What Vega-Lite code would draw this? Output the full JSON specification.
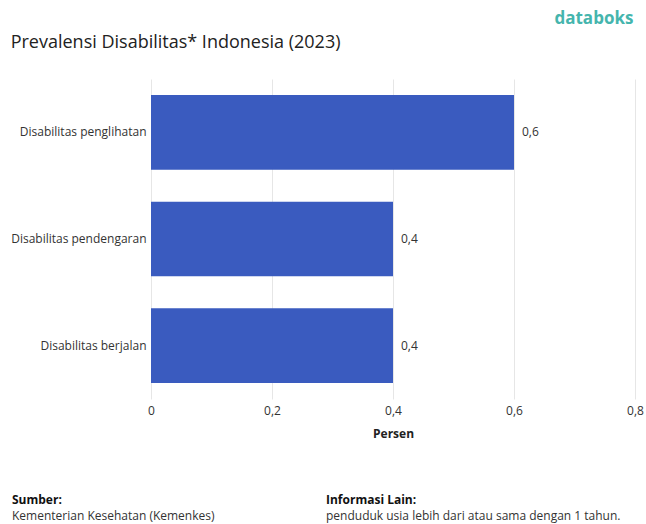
{
  "$schema": "https://vega.github.io/schema/vega-lite/v6.json",
  "padding": {"left": 10, "right": 0, "top": 10, "bottom": 0},
  "background": "white",
  "config": {
    "font": "Open Sans",
    "view": {"stroke": null},
    "locale": {"number": {"decimal": ",", "thousands": ".", "grouping": [3], "currency": ["Rp", ""]}}
  },
  "title": {"text": "databoks", "anchor": "end", "frame": "bounds", "color": "#45b5ad", "fontSize": 17, "fontWeight": "bold", "font": "Open Sans", "offset": 6, "dx": -10},
  "spacing": 53,
  "vconcat": [
    {
      "width": 484,
      "height": 320,
      "title": {"text": "Prevalensi Disabilitas* Indonesia (2023)", "anchor": "start", "frame": "bounds", "fontSize": 18, "fontWeight": "normal", "color": "#222222", "offset": 27},
      "data": {"values": [
        {"kategori": "Disabilitas penglihatan", "nilai": 0.6},
        {"kategori": "Disabilitas pendengaran", "nilai": 0.4},
        {"kategori": "Disabilitas berjalan", "nilai": 0.4}
      ]},
      "encoding": {
        "y": {"field": "kategori", "type": "nominal", "sort": null, "scale": {"paddingInner": 0.3, "paddingOuter": 0.15},
          "axis": {"title": null, "ticks": false, "domain": false, "labelFontSize": 12, "labelColor": "#333333", "labelPadding": 5, "labelLimit": 200}},
        "x": {"field": "nilai", "type": "quantitative", "scale": {"domain": [0, 0.8]},
          "axis": {"values": [0, 0.2, 0.4, 0.6, 0.8], "format": ".1~f", "labelFlush": false, "domain": false, "ticks": false, "gridColor": "#e6e6e6", "labelFontSize": 12, "labelColor": "#333333", "labelPadding": 6, "title": "Persen", "titleFontSize": 12, "titleFontWeight": "bold", "titleColor": "#222222", "titlePadding": 12}}
      },
      "layer": [
        {"mark": {"type": "bar", "color": "#3a5bbf"}},
        {"mark": {"type": "text", "align": "left", "dx": 8, "fontSize": 12, "color": "#333333"},
          "encoding": {"text": {"field": "nilai", "type": "quantitative", "format": ".1~f"}}}
      ]
    },
    {
      "width": 300,
      "height": 32,
      "data": {"values": [
        {"kolom": "a", "baris": "h", "teks": "Sumber:"},
        {"kolom": "a", "baris": "b", "teks": "Kementerian Kesehatan (Kemenkes)"},
        {"kolom": "b", "baris": "h", "teks": "Informasi Lain:"},
        {"kolom": "b", "baris": "b", "teks": "penduduk usia lebih dari atau sama dengan 1 tahun."}
      ]},
      "encoding": {
        "x": {"field": "kolom", "type": "nominal", "bandPosition": 0, "scale": {"type": "band", "domain": ["a", "b"], "paddingInner": 0, "paddingOuter": 0}, "axis": null},
        "y": {"field": "baris", "type": "nominal", "sort": ["h", "b"], "bandPosition": 0.5, "scale": {"type": "band", "paddingInner": 0, "paddingOuter": 0}, "axis": null},
        "text": {"field": "teks"}
      },
      "layer": [
        {"transform": [{"filter": "datum.kolom === 'a' && datum.baris === 'h'"}], "mark": {"type": "text", "align": "left", "dx": -139, "fontSize": 12, "fontWeight": "bold", "color": "#111111"}},
        {"transform": [{"filter": "datum.kolom === 'a' && datum.baris === 'b'"}], "mark": {"type": "text", "align": "left", "dx": -139, "fontSize": 12, "color": "#333333"}},
        {"transform": [{"filter": "datum.kolom === 'b' && datum.baris === 'h'"}], "mark": {"type": "text", "align": "left", "dx": 25, "fontSize": 12, "fontWeight": "bold", "color": "#111111"}},
        {"transform": [{"filter": "datum.kolom === 'b' && datum.baris === 'b'"}], "mark": {"type": "text", "align": "left", "dx": 25, "fontSize": 12, "color": "#333333"}}
      ]
    }
  ]
}
